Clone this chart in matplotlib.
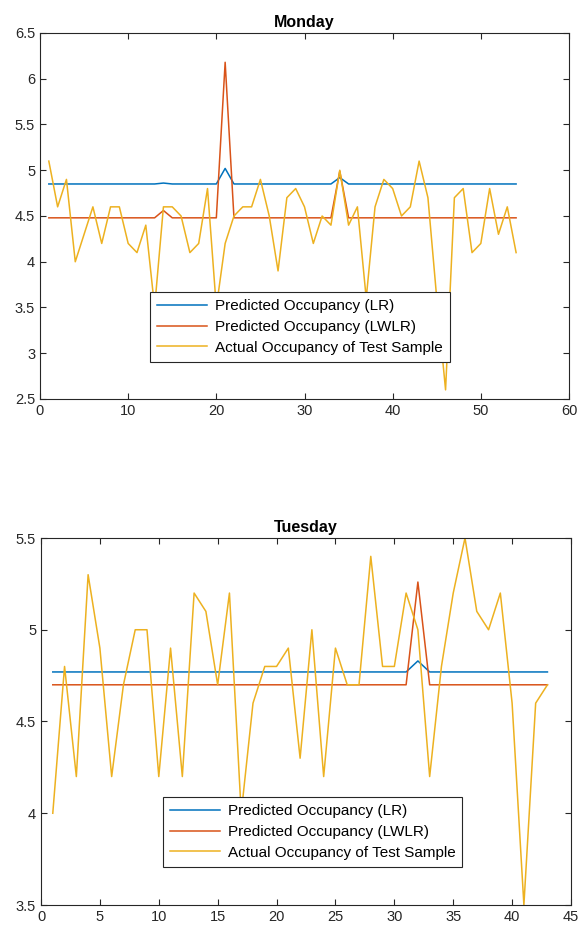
import matplotlib.pyplot as plt
import numpy as np

plt.rcParams['font.family'] = ['Liberation Sans', 'DejaVu Sans']

# Monday data
mon_actual = [5.1, 4.6, 4.9, 4.0, 4.3, 4.6, 4.2, 4.6, 4.6, 4.2,
              4.1, 4.4, 3.5, 4.6, 4.6, 4.5, 4.1, 4.2, 4.8, 3.5,
              4.2, 4.5, 4.6, 4.6, 4.9, 4.5, 3.9, 4.7, 4.8, 4.6,
              4.2, 4.5, 4.4, 5.0, 4.4, 4.6, 3.6, 4.6, 4.9, 4.8,
              4.5, 4.6, 5.1, 4.7, 3.6, 2.6, 4.7, 4.8, 4.1, 4.2,
              4.8, 4.3, 4.6, 4.1]
mon_lr = [4.85] * 54
mon_lr[13] = 4.86
mon_lr[20] = 5.02
mon_lr[33] = 4.92
mon_lwlr = [4.48] * 54
mon_lwlr[13] = 4.56
mon_lwlr[20] = 6.18
mon_lwlr[33] = 4.99

# Tuesday data
tue_actual = [4.0, 4.8, 4.2, 5.3, 4.9, 4.2, 4.7, 5.0, 5.0, 4.2,
              4.9, 4.2, 5.2, 5.1, 4.7, 5.2, 4.0, 4.6, 4.8, 4.8,
              4.9, 4.3, 5.0, 4.2, 4.9, 4.7, 4.7, 5.4, 4.8, 4.8,
              5.2, 5.0, 4.2, 4.8, 5.2, 5.5, 5.1, 5.0, 5.2, 4.6,
              3.5, 4.6, 4.7]
tue_lr = [4.77] * 43
tue_lr[31] = 4.83
tue_lwlr = [4.70] * 43
tue_lwlr[31] = 5.26

labels = ['Predicted Occupancy (LR)', 'Predicted Occupancy (LWLR)',
          'Actual Occupancy of Test Sample']
colors = ['#0072BD', '#D95319', '#EDB120']

fig = plt.figure(figsize=(5.8, 9.3), dpi=100)
W, H = 580, 930
ax1 = fig.add_axes([40 / W, 1 - 399 / H, 529 / W, 366 / H])
ax2 = fig.add_axes([41 / W, 1 - 905 / H, 530 / W, 367 / H])


def draw(ax, lr, lwlr, actual, title, xlim, ylim, xticks, yticks, ytl, leg_pos):
    x = np.arange(1, len(actual) + 1)
    ax.plot(x, lr, color=colors[0], lw=1.1, label=labels[0])
    ax.plot(x, lwlr, color=colors[1], lw=1.1, label=labels[1])
    ax.plot(x, actual, color=colors[2], lw=1.1, label=labels[2])
    ax.set_xlim(xlim)
    ax.set_ylim(ylim)
    ax.set_xticks(xticks)
    ax.set_yticks(yticks)
    ax.set_yticklabels(ytl)
    ax.set_title(title, fontsize=11.5, fontweight='bold', pad=4)
    ax.tick_params(direction='in', top=True, right=True, labelsize=10.5,
                   colors='#262626', length=4, width=0.8)
    for s in ax.spines.values():
        s.set_color('#262626')
        s.set_linewidth(0.8)
    leg = ax.legend(loc='upper left', bbox_to_anchor=leg_pos, fontsize=11,
                    fancybox=False, framealpha=1, edgecolor='#262626',
                    handlelength=3.3, handletextpad=0.5, borderpad=0.45,
                    labelspacing=0.45, borderaxespad=0)
    leg.get_frame().set_linewidth(0.8)


draw(ax1, mon_lr, mon_lwlr, mon_actual, 'Monday', (0, 60), (2.5, 6.5),
     np.arange(0, 61, 10), np.arange(2.5, 6.51, 0.5),
     ['2.5', '3', '3.5', '4', '4.5', '5', '5.5', '6', '6.5'], (0.208, 0.292))
draw(ax2, tue_lr, tue_lwlr, tue_actual, 'Tuesday', (0, 45), (3.5, 5.5),
     np.arange(0, 46, 5), np.arange(3.5, 5.51, 0.5),
     ['3.5', '4', '4.5', '5', '5.5'], (0.230, 0.294))

plt.savefig('out.png')
